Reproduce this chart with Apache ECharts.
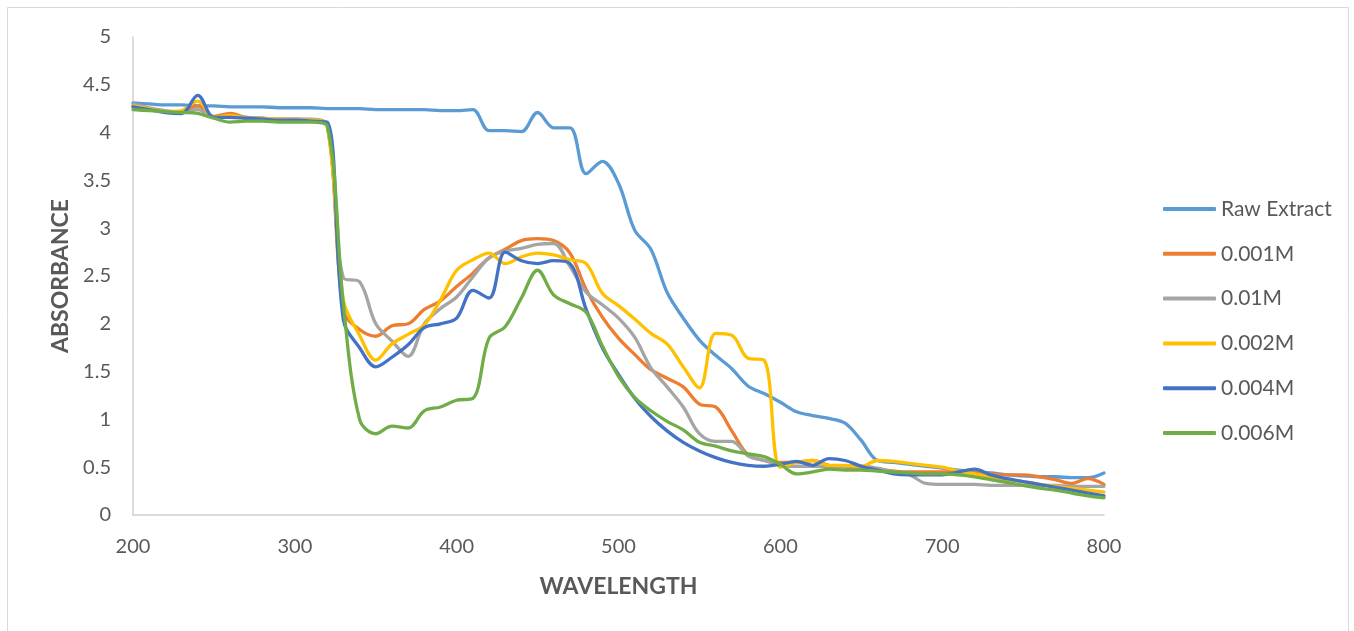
<!DOCTYPE html>
<html>
<head>
<meta charset="utf-8">
<script src="https://cdn.jsdelivr.net/npm/echarts@6/dist/echarts.min.js"></script>
<style>
html,body{margin:0;padding:0;background:#fff;}
#chart{width:1354px;height:631px;}
</style>
</head>
<body>
<div id="chart"></div>
<script>
// Wavelength (nm), 200..800 step 10
const wavelengths = [200,210,220,230,240,250,260,270,280,290,300,310,320,330,340,350,360,370,380,390,400,410,420,430,440,450,460,470,480,490,500,510,520,530,540,550,560,570,580,590,600,610,620,630,640,650,660,670,680,690,700,710,720,730,740,750,760,770,780,790,800];

const rawExtract = [4.31,4.30,4.29,4.29,4.28,4.28,4.27,4.27,4.27,4.26,4.26,4.26,4.25,4.25,4.25,4.24,4.24,4.24,4.24,4.23,4.23,4.24,4.02,4.02,4.01,4.21,4.05,4.05,3.57,3.70,3.47,2.98,2.78,2.33,2.06,1.83,1.67,1.53,1.35,1.27,1.18,1.08,1.04,1.01,0.96,0.78,0.57,0.55,0.53,0.51,0.49,0.47,0.45,0.44,0.42,0.41,0.40,0.40,0.39,0.39,0.44];

const m0001 = [4.27,4.25,4.22,4.22,4.28,4.17,4.20,4.16,4.15,4.14,4.14,4.13,4.08,2.14,1.94,1.87,1.98,2.00,2.15,2.24,2.39,2.53,2.69,2.78,2.87,2.89,2.87,2.74,2.36,2.07,1.85,1.68,1.52,1.43,1.34,1.16,1.13,0.88,0.63,0.57,0.55,0.55,0.57,0.52,0.50,0.49,0.48,0.46,0.45,0.45,0.45,0.45,0.44,0.43,0.42,0.42,0.40,0.37,0.33,0.38,0.32];

const m001 = [4.30,4.26,4.23,4.21,4.24,4.16,4.17,4.16,4.15,4.14,4.14,4.14,4.08,2.48,2.44,2.00,1.82,1.66,2.00,2.16,2.28,2.49,2.69,2.76,2.79,2.83,2.84,2.60,2.33,2.20,2.06,1.86,1.54,1.34,1.13,0.85,0.77,0.77,0.62,0.57,0.52,0.51,0.51,0.51,0.51,0.51,0.49,0.45,0.42,0.33,0.32,0.32,0.32,0.31,0.31,0.31,0.31,0.31,0.30,0.30,0.30];

const m0002 = [4.28,4.25,4.22,4.23,4.33,4.16,4.18,4.15,4.14,4.14,4.13,4.13,4.07,2.25,1.88,1.62,1.79,1.89,1.99,2.25,2.56,2.67,2.74,2.63,2.70,2.74,2.72,2.67,2.63,2.32,2.19,2.05,1.90,1.79,1.55,1.33,1.90,1.88,1.64,1.62,0.50,0.55,0.57,0.52,0.52,0.51,0.57,0.56,0.54,0.52,0.50,0.46,0.43,0.40,0.37,0.35,0.32,0.30,0.28,0.26,0.24];

const m0004 = [4.27,4.24,4.21,4.20,4.39,4.16,4.16,4.15,4.14,4.13,4.13,4.12,4.11,2.04,1.75,1.55,1.65,1.78,1.96,2.00,2.06,2.35,2.27,2.75,2.66,2.63,2.66,2.63,2.15,1.75,1.47,1.22,1.03,0.88,0.76,0.67,0.60,0.55,0.52,0.51,0.53,0.56,0.52,0.59,0.57,0.51,0.47,0.43,0.42,0.42,0.42,0.45,0.48,0.42,0.38,0.35,0.32,0.29,0.26,0.23,0.20];

const m0006 = [4.24,4.23,4.22,4.21,4.20,4.15,4.11,4.12,4.12,4.11,4.11,4.11,4.07,2.20,1.00,0.85,0.93,0.91,1.09,1.13,1.20,1.22,1.85,1.97,2.27,2.56,2.30,2.21,2.12,1.77,1.45,1.23,1.09,0.98,0.89,0.76,0.72,0.67,0.64,0.61,0.53,0.43,0.45,0.48,0.47,0.47,0.46,0.45,0.44,0.43,0.43,0.42,0.40,0.37,0.34,0.31,0.28,0.26,0.23,0.20,0.18];

const seriesNames = ['Raw Extract','0.001M','0.01M','0.002M','0.004M','0.006M'];
const seriesColors = ['#5B9BD5','#ED7D31','#A5A5A5','#FFC000','#4472C4','#70AD47'];
const seriesValues = [rawExtract, m0001, m001, m0002, m0004, m0006];

const FONT = 'Lato, "Open Sans", sans-serif';

const chart = echarts.init(document.getElementById('chart'), null, {renderer:'canvas'});
chart.setOption({
  animation: false,
  backgroundColor: '#ffffff',
  graphic: [{
    type: 'rect',
    shape: {x: 7.5, y: 7.5, width: 1341, height: 660},
    style: {fill: 'none', stroke: '#D9D9D9', lineWidth: 1},
    silent: true
  }],
  grid: {left: 133, right: 250, top: 37, bottom: 116, containLabel: false},
  legend: {
    orient: 'vertical',
    left: 1163,
    top: 198.5,
    padding: 0,
    itemWidth: 53,
    itemHeight: 4,
    itemGap: 23.8,
    icon: 'roundRect',
    textStyle: {fontFamily: FONT, fontSize: 21, color: '#595959', lineHeight: 21, padding: [0,0,0,0]},
    data: seriesNames
  },
  xAxis: {
    type: 'value',
    min: 200, max: 800, interval: 100,
    name: 'WAVELENGTH',
    nameLocation: 'middle',
    nameGap: 60,
    nameTextStyle: {fontFamily: FONT, fontSize: 23, fontWeight: 'bold', color: '#595959'},
    axisLine: {show: true, lineStyle: {color: '#D0D0D0', width: 1.5}},
    axisTick: {show: false},
    splitLine: {show: false},
    axisLabel: {fontFamily: FONT, fontSize: 20, color: '#595959', margin: 22}
  },
  yAxis: {
    type: 'value',
    min: 0, max: 5, interval: 0.5,
    name: 'ABSORBANCE',
    nameLocation: 'middle',
    nameGap: 61,
    nameRotate: 90,
    nameTextStyle: {fontFamily: FONT, fontSize: 23, fontWeight: 'bold', color: '#595959'},
    axisLine: {show: true, lineStyle: {color: '#D0D0D0', width: 1.5}},
    axisTick: {show: false},
    splitLine: {show: false},
    axisLabel: {fontFamily: FONT, fontSize: 20, color: '#595959', margin: 22}
  },
  series: seriesNames.map((n, i) => ({
    name: n,
    type: 'line',
    smooth: 0.35,
    symbol: 'none',
    color: seriesColors[i],
    lineStyle: {width: 3.3, color: seriesColors[i], cap: 'round', join: 'round'},
    data: wavelengths.map((w, k) => [w, seriesValues[i][k]])
  }))
});
</script>
</body>
</html>
